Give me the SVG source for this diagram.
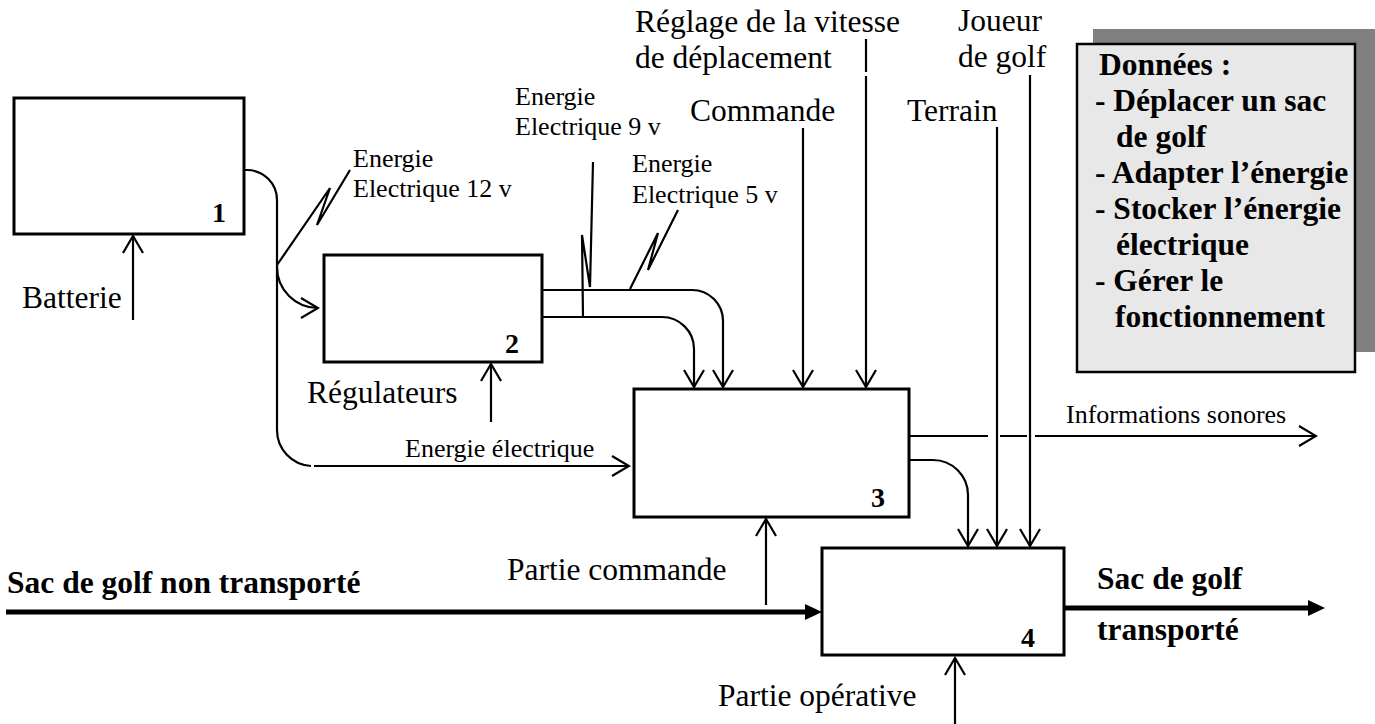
<svg xmlns="http://www.w3.org/2000/svg" width="1375" height="724" viewBox="0 0 1375 724">
<style>
.box{fill:#fff;stroke:#000;stroke-width:3}
.ln{fill:none;stroke:#000;stroke-width:2.2}
.thick{fill:none;stroke:#000;stroke-width:5}
.big{font-size:31.5px}
.sm{font-size:26px}
.b{font-weight:bold;font-size:31.5px}
.num{font-weight:bold;font-size:28px}
</style>
<defs>
<marker id="open" viewBox="-20 -12 22 24" refX="0" refY="0" markerWidth="22" markerHeight="24" markerUnits="userSpaceOnUse" orient="auto">
<path d="M-17,-10 L0,0 L-17,10" fill="none" stroke="#000" stroke-width="2.2"/>
</marker>
<marker id="solid" viewBox="0 -9 18 18" refX="0" refY="0" markerWidth="18" markerHeight="18" markerUnits="userSpaceOnUse" orient="auto">
<path d="M0,-8 L17,0 L0,8Z" fill="#000"/>
</marker>
</defs>
<rect width="1375" height="724" fill="#fff"/>

<g id="connectors">
<path class="ln" d="M244,170 H247 A30,30 0 0 1 277,200 V430 A36,36 0 0 0 311,466"/>
<path class="ln" d="M314,466 H629" marker-end="url(#open)"/>
<path class="ln" d="M277,267 A41,41 0 0 0 318,308" marker-end="url(#open)"/>
<polyline class="ln" points="277,265 330,188 317,225 350,170"/>
<path class="ln" d="M542,290 H692 A31,31 0 0 1 723,321 V387" marker-end="url(#open)"/>
<path class="ln" d="M543,317 H662 A32,32 0 0 1 694,349 V387" marker-end="url(#open)"/>
<polyline class="ln" points="593,162 590,287 582,235 583,318"/>
<polyline class="ln" points="630,289 658,233 648,270 678,210"/>
<path class="ln" d="M133,320 V236" marker-end="url(#open)"/>
<path class="ln" d="M491,422 V364" marker-end="url(#open)"/>
<path class="ln" d="M803,128 V387" marker-end="url(#open)"/>
<path class="ln" d="M866,39 V72"/>
<path class="ln" d="M866,76 V387" marker-end="url(#open)"/>
<path class="ln" d="M997,127 V546" marker-end="url(#open)"/>
<path class="ln" d="M1030,75 V546" marker-end="url(#open)"/>
<path class="ln" d="M909,436 H988 M1000,436 H1027"/>
<path class="ln" d="M1035,436 H1316" marker-end="url(#open)"/>
<path class="ln" d="M909,460 H933 A35,35 0 0 1 968,495 V546" marker-end="url(#open)"/>
<path class="ln" d="M766,605 V519" marker-end="url(#open)"/>
<path class="ln" d="M955,724 V658" marker-end="url(#open)"/>
<path class="thick" d="M6,612 H805" marker-end="url(#solid)"/>
<path class="thick" d="M1064,608 H1308" marker-end="url(#solid)"/>
</g>

<g id="node1">
<rect class="box" x="14" y="98" width="230" height="136"/>
<text class="num" font-family="'Liberation Serif', 'DejaVu Serif', serif" x="212" y="222">1</text>
</g>
<g id="node2">
<rect class="box" x="324" y="255" width="218" height="107"/>
<text class="num" font-family="'Liberation Serif', 'DejaVu Serif', serif" x="505" y="353">2</text>
</g>
<g id="node3">
<rect class="box" x="634" y="389" width="275" height="128"/>
<text class="num" font-family="'Liberation Serif', 'DejaVu Serif', serif" x="871" y="507">3</text>
</g>
<g id="node4">
<rect class="box" x="822" y="548" width="242" height="107"/>
<text class="num" font-family="'Liberation Serif', 'DejaVu Serif', serif" x="1021" y="647">4</text>
</g>

<g id="data" font-family="'Liberation Serif', 'DejaVu Serif', serif">
<rect x="1093" y="29" width="282" height="323" fill="#808080"/>
<rect x="1077" y="44" width="278" height="328" fill="#e8e8e8" stroke="#000" stroke-width="2.5"/>
<text class="b" x="1099" y="75">Données :</text>
<text class="b" x="1095" y="111">- Déplacer un sac</text>
<text class="b" x="1116" y="147">de golf</text>
<text class="b" x="1095" y="183">- Adapter l’énergie</text>
<text class="b" x="1095" y="219">- Stocker l’énergie</text>
<text class="b" x="1116" y="255">électrique</text>
<text class="b" x="1095" y="291">- Gérer le</text>
<text class="b" x="1115" y="327">fonctionnement</text>
</g>

<g id="labels" font-family="'Liberation Serif', 'DejaVu Serif', serif">
<text class="big" x="22" y="308">Batterie</text>
<text class="big" x="307" y="403">Régulateurs</text>
<text class="sm" x="405" y="457">Energie électrique</text>
<text class="sm" x="353" y="167">Energie</text>
<text class="sm" x="353" y="197">Electrique 12 v</text>
<text class="sm" x="515" y="105">Energie</text>
<text class="sm" x="515" y="135">Electrique 9 v</text>
<text class="sm" x="632" y="172">Energie</text>
<text class="sm" x="632" y="203">Electrique 5 v</text>
<text class="big" x="690" y="121">Commande</text>
<text class="big" x="635" y="32">Réglage de la vitesse</text>
<text class="big" x="635" y="68">de déplacement</text>
<text class="big" x="907" y="121">Terrain</text>
<text class="big" x="958" y="31">Joueur</text>
<text class="big" x="958" y="67">de golf</text>
<text class="sm" x="1066" y="423">Informations sonores</text>
<text class="big" x="507" y="580">Partie commande</text>
<text class="big" x="718" y="706">Partie opérative</text>
<text class="b" x="7" y="593">Sac de golf non transporté</text>
<text class="b" x="1097" y="589">Sac de golf</text>
<text class="b" x="1097" y="640">transporté</text>
</g>
</svg>
